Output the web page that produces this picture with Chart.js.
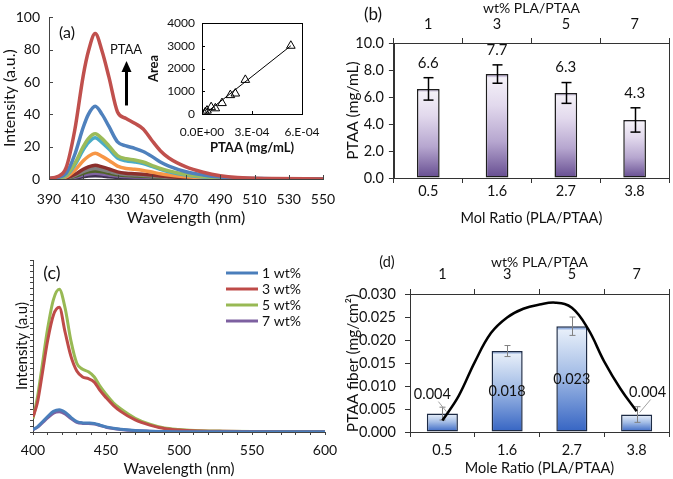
<!DOCTYPE html>
<html><head><meta charset="utf-8">
<script src="https://cdn.jsdelivr.net/npm/chart.js@4.4.1/dist/chart.umd.min.js"></script>
<style>
html,body{margin:0;padding:0;background:#fff;}
#wrap{position:relative;width:673px;height:479px;overflow:hidden;background:#fff;}
canvas{position:absolute;left:0;top:0;}
</style></head><body><div id="wrap">
<canvas id="ca" width="673" height="479"></canvas>
<canvas id="cins" width="673" height="479"></canvas>
<canvas id="cb" width="673" height="479"></canvas>
<canvas id="cc" width="673" height="479"></canvas>
<canvas id="cd" width="673" height="479"></canvas>
<canvas id="cdl" width="673" height="479"></canvas>
</div>
<script>
// ---------------- DATA ----------------
// Panel (a): emission spectra at increasing PTAA concentration
const wavelengthA = [390,395,400,405,410,413,417,421,425,430,435,440,445,450,455,460,470,480,490,500,520,550];
const aRed     = [0.5,1.5,7,30,64,79,90,79,63,41.5,37.5,34.5,31,24,17.5,13,7.5,4.2,2,0.9,0.3,0];
const aBlue    = [0.3,1,3.5,15,32,40,45,40,32.5,23,20.5,19,17,14,10.5,8,4.5,2.5,1.2,0.5,0.2,0];
const aGreen   = [0.2,0.7,2.3,9.5,20,25,28,25,20.5,14.5,12.5,11.8,10.5,8.5,6.5,5,2.8,1.5,0.7,0.3,0.1,0];
const aAqua    = [0.2,0.6,2,8.5,18,22.5,25.5,22.5,18.5,13,11.2,10.5,9.5,7.8,6,4.5,2.5,1.3,0.6,0.3,0.1,0];
const aOrange  = [0.1,0.4,1.3,5.3,11.3,14,16,14,11.5,8,6.5,6,5.3,4.3,3.3,2.5,1.4,0.8,0.4,0.2,0,0];
const aMaroon  = [0,0.2,0.7,2.8,6,7.5,8.5,7.5,6.2,4.4,3.6,3.3,2.9,2.4,1.8,1.4,0.8,0.4,0.2,0.1,0,0];
const aGray    = [0,0.15,0.5,2.1,4.6,5.7,6.5,5.7,4.7,3.4,2.8,2.5,2.2,1.8,1.4,1,0.6,0.3,0.15,0.05,0,0];
const aOlive   = [0,0.1,0.4,1.6,3.5,4.4,5,4.4,3.6,2.6,2.1,1.9,1.7,1.4,1.1,0.8,0.5,0.25,0.1,0,0,0];
const aPurple  = [0,0.1,0.3,1.1,2.4,3.1,3.5,3.1,2.5,1.8,1.5,1.3,1.2,1,0.8,0.6,0.3,0.15,0.1,0,0,0];
const aDkPurp  = [0,0.05,0.2,0.6,1.4,1.8,2,1.8,1.4,1,0.8,0.75,0.7,0.55,0.45,0.35,0.2,0.1,0,0,0,0];

// Inset: calibration Area vs PTAA concentration
const insetConc = [1.5e-5,2.0e-5,3.0e-5,5.5e-5,8.0e-5,1.2e-4,1.7e-4,2.0e-4,2.6e-4,5.33e-4];
const insetArea = [0,80,150,300,250,480,830,900,1500,3000];
const insetFitConc = [1.5e-5,5.33e-4];
const insetFitArea = [0,3000];
const insetXTicks = [0,3e-4,6e-4];
const insetXTickLabels = ['0.0E+00','3.E-04','6.E-04'];
const insetYTicks = [0,1000,2000,3000,4000];

// Panel (b)
const molRatioB = ['0.5','1.6','2.7','3.8'];
const wtB = ['1','3','5','7'];
const bValues = [6.6,7.7,6.3,4.3];
const bErr = [0.83,0.68,0.77,0.9];
const bYTicks = [0,2,4,6,8,10];

// Panel (c)
const wavelengthC = [400,403,406,410,414,418,422,426,430,434,438,442,446,450,455,460,470,480,490,500,515,530,550,575,600];
const c1wt = [1.5,3,5.5,9,12,13,11.5,8.5,6,5.3,5.2,5,4,3,2.2,1.6,0.9,0.5,0.3,0.2,0.1,0.1,0.1,0.1,0.1];
const c3wt = [8.7,17,32,53,68,72.5,58,44,35.5,32,31,29,24,20,15.5,12,7,4,2,1.1,0.6,0.4,0.3,0.2,0.2];
const c5wt = [7.8,20,37,60,77,83,72,53,40,36.5,35,32,26.5,22,17,13.5,8,4.5,2.3,1.5,0.8,0.5,0.3,0.2,0.2];
const c7wt = [1.3,2.7,5,8.2,11,11.8,10.5,7.8,5.6,5,4.9,4.6,3.7,2.8,2,1.5,0.8,0.5,0.3,0.2,0.1,0.1,0.1,0.1,0.1];
const cLabels = ['1 wt%','3 wt%','5 wt%','7 wt%'];

// Panel (d)
const molRatioD = ['0.5','1.6','2.7','3.8'];
const wtD = ['1','3','5','7'];
const dValues = [0.0040,0.0176,0.0230,0.0038];
const dErr = [0.0014,0.0012,0.0020,0.0017];
const dYTicks = [0,0.005,0.010,0.015,0.020,0.025,0.030];
const dCurveX = [0,0.25,0.5,0.75,1,1.25,1.5,1.75,2,2.25,2.5,2.75,3];
const dCurveY = [0.0025,0.0078,0.0152,0.0215,0.0249,0.0268,0.0277,0.0281,0.0270,0.0224,0.0153,0.0094,0.0045];

// ---------------- SETUP ----------------
const FF = 'Lato, "Open Sans", sans-serif';
Chart.defaults.font.family = FF;
Chart.defaults.color = '#111';
const AX = '#444';
const pts = (xs, ys) => xs.map((x,i)=>({x, y: ys[i]}));
const tickList = arr => s => { s.ticks = arr.map(v=>({value:v})); };
const baseOpts = (padding) => ({
  responsive:false, animation:false, devicePixelRatio:1,
  layout:{padding},
  plugins:{legend:{display:false}, tooltip:{enabled:false}}
});
function text(ctx, s, x, y, size, opts={}) {
  ctx.save();
  ctx.font = (opts.bold?'bold ':'') + size + 'px ' + FF;
  ctx.fillStyle = opts.color || '#111';
  ctx.textAlign = opts.align || 'center';
  ctx.textBaseline = 'middle';
  ctx.fillText(s, x, y);
  ctx.restore();
}
function line(ctx, x1,y1,x2,y2, color, w) {
  ctx.save(); ctx.strokeStyle=color; ctx.lineWidth=w; ctx.beginPath(); ctx.moveTo(x1,y1); ctx.lineTo(x2,y2); ctx.stroke(); ctx.restore();
}
function boxPlugin(color){ return { id:'box', afterDraw(chart){ const a=chart.chartArea, c=chart.ctx; c.save(); c.strokeStyle=color; c.lineWidth=1; c.strokeRect(Math.round(a.left)+0.5, Math.round(a.top)+0.5, Math.round(a.right-a.left), Math.round(a.bottom-a.top)); c.restore(); } }; }
function insideTicks(chart, len, color){
  const {ctx, chartArea:a, scales:{x,y}} = chart;
  x.ticks.forEach(t=>{ const px=Math.round(x.getPixelForValue(t.value))+0.5; line(ctx, px, a.bottom, px, a.bottom-len, color, 1); });
  y.ticks.forEach(t=>{ const py=Math.round(y.getPixelForValue(t.value))+0.5; line(ctx, a.left, py, a.left+len, py, color, 1); });
}
function vGrad(stops, fallback){
  return ctx => {
    const ch = ctx.chart;
    if (ctx.type !== 'data' || !ch.chartArea) return fallback;
    const ys = ch.scales.y;
    const v = ch.data.datasets[ctx.datasetIndex].data[ctx.dataIndex];
    const top = ys.getPixelForValue(v), bot = ys.getPixelForValue(0);
    const g = ch.ctx.createLinearGradient(0, top, 0, bot);
    stops.forEach(([o,c])=>g.addColorStop(o,c));
    return g;
  };
}

// ---------------- PANEL (a) ----------------
const seriesA = [
  {v:aRed,c:'#C0504D'},{v:aBlue,c:'#4F81BD'},{v:aGreen,c:'#9BBB59'},{v:aAqua,c:'#4BACC6'},
  {v:aOrange,c:'#F79646'},{v:aMaroon,c:'#8B2F2C'},{v:aGray,c:'#7F7F7F'},{v:aOlive,c:'#4F6228'},
  {v:aPurple,c:'#8064A2'},{v:aDkPurp,c:'#3F3151'}
];
const decorA = { id:'decorA', afterDraw(chart){
  const {ctx, scales:{x,y}} = chart;
  insideTicks(chart, 4, AX);
  text(ctx, '(a)', x.getPixelForValue(400.5), y.getPixelForValue(90.4), 16);
  text(ctx, 'PTAA', x.getPixelForValue(435), y.getPixelForValue(80.2), 13);
  const ax = Math.round(x.getPixelForValue(435))+0.5, y0=y.getPixelForValue(45.5), y1=y.getPixelForValue(73);
  line(ctx, ax, y0, ax, y1+9, '#000', 3);
  ctx.save(); ctx.fillStyle='#000'; ctx.beginPath(); ctx.moveTo(ax, y1); ctx.lineTo(ax-5, y1+11); ctx.lineTo(ax+5, y1+11); ctx.closePath(); ctx.fill(); ctx.restore();
}};
new Chart(document.getElementById('ca'), {
  type:'line',
  data:{datasets: seriesA.map(s=>({data: pts(wavelengthA, s.v), borderColor:s.c, borderWidth:3.5, pointRadius:0, cubicInterpolationMode:'monotone', fill:false}))},
  options:Object.assign(baseOpts({left:0.4, top:12, right:350, bottom:251.4}), {
    scales:{
      x:{type:'linear', min:390, max:550, ticks:{stepSize:20, padding:11.6, font:{size:14}, maxRotation:0, autoSkip:false},
         grid:{display:false, drawTicks:false}, border:{display:true, color:AX},
         title:{display:true, text:'Wavelength (nm)', font:{size:16}, padding:0}, afterFit:s=>{s.height=48.6;}},
      y:{min:0, max:100, ticks:{stepSize:20, padding:9, font:{size:14}},
         grid:{display:false, drawTicks:false}, border:{display:true, color:AX},
         title:{display:true, text:'Intensity (a.u.)', font:{size:16}, padding:0}, afterFit:s=>{s.width=48.6;}}
    }
  }),
  plugins:[decorA]
});

// ---------------- INSET ----------------
new Chart(document.getElementById('cins'), {
  type:'scatter',
  data:{datasets:[
    {data: pts(insetConc, insetArea), pointStyle:'triangle', pointRadius:5, borderColor:'#000', backgroundColor:'rgba(255,255,255,0)', borderWidth:1, showLine:false},
    {data: pts(insetFitConc, insetFitArea), showLine:true, pointRadius:0, borderColor:'#000', borderWidth:1}
  ]},
  options:Object.assign(baseOpts({left:146.2, top:23, right:371, bottom:323.2}), {
    scales:{
      x:{type:'linear', min:0, max:6e-4, afterBuildTicks:tickList(insetXTicks),
         ticks:{padding:10.8, font:{size:12}, maxRotation:0, autoSkip:false, callback:(v,i)=>insetXTickLabels[i]},
         grid:{display:false, drawTicks:false}, border:{display:true, color:'#000'},
         title:{display:true, text:'PTAA (mg/mL)', font:{size:13, weight:'bold'}, padding:0}, afterFit:s=>{s.height=41.8;}},
      y:{min:0, max:4000, afterBuildTicks:tickList(insetYTicks), ticks:{padding:7, font:{size:12}, callback:v=>String(v)},
         grid:{display:false, drawTicks:false}, border:{display:true, color:'#000'},
         title:{display:true, text:'Area', font:{size:13, weight:'bold'}, padding:0}, afterFit:s=>{s.width=55.8;}}
    }
  }),
  plugins:[boxPlugin('#000'), {id:'insT', afterDraw(chart){ insideTicks(chart, 3, '#000'); }}]
});

// ---------------- PANEL (b) ----------------
const catGrid = {drawOnChartArea:false, drawTicks:true, tickLength:5, color:'#333', offset:true};
const errLabelB = { id:'errB', afterDatasetsDraw(chart){
  const {ctx, scales:{y}} = chart; const meta = chart.getDatasetMeta(0);
  meta.data.forEach((bar,i)=>{
    const x = Math.round(bar.x)+0.5, t=y.getPixelForValue(bValues[i]+bErr[i]), b=y.getPixelForValue(bValues[i]-bErr[i]);
    line(ctx, x, t, x, b, '#000', 1.5); line(ctx, x-5, t, x+5, t, '#000', 1.5); line(ctx, x-5, b, x+5, b, '#000', 1.5);
    text(ctx, bValues[i].toFixed(1), bar.x, t-15, 15);
  });
  text(ctx, '(b)', 373, 15, 17);
}};
new Chart(document.getElementById('cb'), {
  type:'bar',
  data:{labels:molRatioB, datasets:[{data:bValues, barPercentage:0.33, categoryPercentage:1,
    backgroundColor: vGrad([[0,'#7a62a0'],[0.035,'#f4f1f8'],[0.3,'#e2d9ed'],[0.65,'#b6a6cf'],[1,'#654c90']], '#b0a0c8'),
    borderColor:'#1e1e1e', borderWidth:1.5, borderSkipped:false}]},
  options:Object.assign(baseOpts({left:343.6, top:0, right:4, bottom:251.6}), {
    scales:{
      x:{offset:true, grid:catGrid, border:{display:true,color:'#333'}, ticks:{padding:0, font:{size:14.5}},
         title:{display:true, text:'Mol Ratio (PLA/PTAA)', font:{size:14.5}, padding:0}, afterFit:s=>{s.height=49.4;}},
      x2:{type:'category', labels:wtB, position:'top', offset:true, grid:catGrid, border:{display:true,color:'#333'}, ticks:{padding:4.5, font:{size:14.5}},
         title:{display:true, text:'wt% PLA/PTAA', font:{size:14}, padding:0}, afterFit:s=>{s.height=43;}},
      y:{min:0, max:10, afterBuildTicks:tickList(bYTicks), ticks:{padding:5, font:{size:14.5}, callback:v=>v.toFixed(1)},
         grid:{drawOnChartArea:false, drawTicks:true, tickLength:5, color:'#333'}, border:{display:true,color:'#333'},
         title:{display:true, text:'PTAA (mg/mL)', font:{size:15.5}, padding:0}, afterFit:s=>{s.width=50.3;}}
    }
  }),
  plugins:[boxPlugin('#333'), errLabelB]
});

// ---------------- PANEL (c) ----------------
const seriesC = [{v:c1wt,c:'#4A7EBB'},{v:c3wt,c:'#BE4B48'},{v:c5wt,c:'#98B954'},{v:c7wt,c:'#7D60A0'}];
const legendC = { id:'legC', afterDraw(chart){
  const ctx = chart.ctx;
  chart.data.datasets.forEach((ds,i)=>{
    const yy = 273 + i*16;
    line(ctx, 226, yy, 258, yy, ds.borderColor, 3);
    text(ctx, ds.label, 262, yy, 14, {align:'left'});
  });
  text(ctx, '(c)', 52, 273, 18);
}};
new Chart(document.getElementById('cc'), {
  type:'line',
  data:{datasets: seriesC.map((s,i)=>({label:cLabels[i], data: pts(wavelengthC, s.v), borderColor:s.c, borderWidth:3, pointRadius:0, cubicInterpolationMode:'monotone', fill:false}))},
  options:Object.assign(baseOpts({left:13, top:260, right:348, bottom:1}), {
    scales:{
      x:{type:'linear', min:400, max:600, ticks:{stepSize:10, padding:7, font:{size:14}, maxRotation:0, autoSkip:false, callback:v=> v%50===0 ? String(v) : ''},
         grid:{drawOnChartArea:false, drawTicks:true, tickLength:3, color:AX}, border:{display:true,color:AX},
         title:{display:true, text:'Wavelength (nm)', font:{size:15}, padding:0}, afterFit:s=>{s.height=46;}},
      y:{min:0, max:100, afterBuildTicks:s=>{ s.ticks = Array.from({length:31},(_,i)=>({value:i*100/30})); },
         ticks:{display:false}, grid:{drawOnChartArea:false, drawTicks:true, tickLength:3, color:AX}, border:{display:true,color:AX},
         title:{display:true, text:'Intensity (a.u)', font:{size:15}, padding:0}, afterFit:s=>{s.width=20;}}
    }
  }),
  plugins:[legendC]
});

// ---------------- PANEL (d) ----------------
const errLabelD = { id:'errD', afterDatasetsDraw(chart){
  const {ctx, scales:{y}} = chart; const meta = chart.getDatasetMeta(0);
  meta.data.forEach((bar,i)=>{
    const x = Math.round(bar.x)+0.5, t=y.getPixelForValue(dValues[i]+dErr[i]), b=y.getPixelForValue(dValues[i]-dErr[i]);
    line(ctx, x, t, x, b, '#808080', 1); line(ctx, x-3, t, x+3, t, '#808080', 1); line(ctx, x-3, b, x+3, b, '#808080', 1);
    const lbl = dValues[i].toFixed(3);
    const top = y.getPixelForValue(dValues[i]), base = y.getPixelForValue(0);
    if (i===1 || i===2) {
      text(ctx, lbl, bar.x, (top+base)/2, 14.5);
    } else {
      const dx = i===0 ? -10 : 11, dy = i===0 ? -19 : -22;
      text(ctx, lbl, bar.x+dx, top+dy, 14.5);
      line(ctx, bar.x+dx+(i===0?6:3), top+dy+7, bar.x+(i===0?4:3), top-2, '#a0a0a0', 1);
    }
  });
  text(ctx, '(d)', 387, 262, 14.5);
}};
new Chart(document.getElementById('cd'), {
  type:'bar',
  data:{labels:molRatioD, datasets:[
    {data:dValues, barPercentage:0.48, categoryPercentage:1,
     backgroundColor: vGrad([[0,'#3b6cc4'],[0.04,'#e6eef9'],[0.45,'#a4bde6'],[1,'#3564c3']], '#7f9fd9'),
     borderColor:'#1d2b45', borderWidth:1.5, borderSkipped:false}
  ]},
  options:Object.assign(baseOpts({left:343.6, top:253.6, right:4, bottom:1.6}), {
    scales:{
      x:{offset:true, grid:catGrid, border:{display:true,color:'#333'}, ticks:{padding:4.5, font:{size:14.5}},
         title:{display:true, text:'Mole Ratio (PLA/PTAA)', font:{size:14.5}, padding:0}, afterFit:s=>{s.height=45.4;}},
      x2:{type:'category', labels:wtD, position:'top', offset:true, grid:catGrid, border:{display:true,color:'#333'}, ticks:{padding:5.5, font:{size:14.5}},
         title:{display:true, text:'wt% PLA/PTAA', font:{size:14}, padding:0}, afterFit:s=>{s.height=40.4;}},
      y:{min:0, max:0.03, afterBuildTicks:tickList(dYTicks), ticks:{padding:9, font:{size:14.5}, callback:v=>v.toFixed(3)},
         grid:{drawOnChartArea:false, drawTicks:true, tickLength:5, color:'#333'}, border:{display:true,color:'#333'},
         title:{display:true, text:'PTAA fiber (mg/cm²)', font:{size:15.5}, padding:0}, afterFit:s=>{s.width=66.4;}}
    }
  }),
  plugins:[boxPlugin('#333'), errLabelD]
});
// smooth trend curve over panel (d), on a linear axis aligned with the category centres
new Chart(document.getElementById('cdl'), {
  type:'line',
  data:{datasets:[{data: pts(dCurveX, dCurveY), borderColor:'#000', borderWidth:2.5, pointRadius:0, tension:0.4, fill:false}]},
  options:Object.assign(baseOpts({left:410, top:294, right:4, bottom:47}), {
    scales:{
      x:{type:'linear', display:false, min:-0.5, max:3.5},
      y:{display:false, min:0, max:0.03}
    }
  })
});
</script>
</body></html>
